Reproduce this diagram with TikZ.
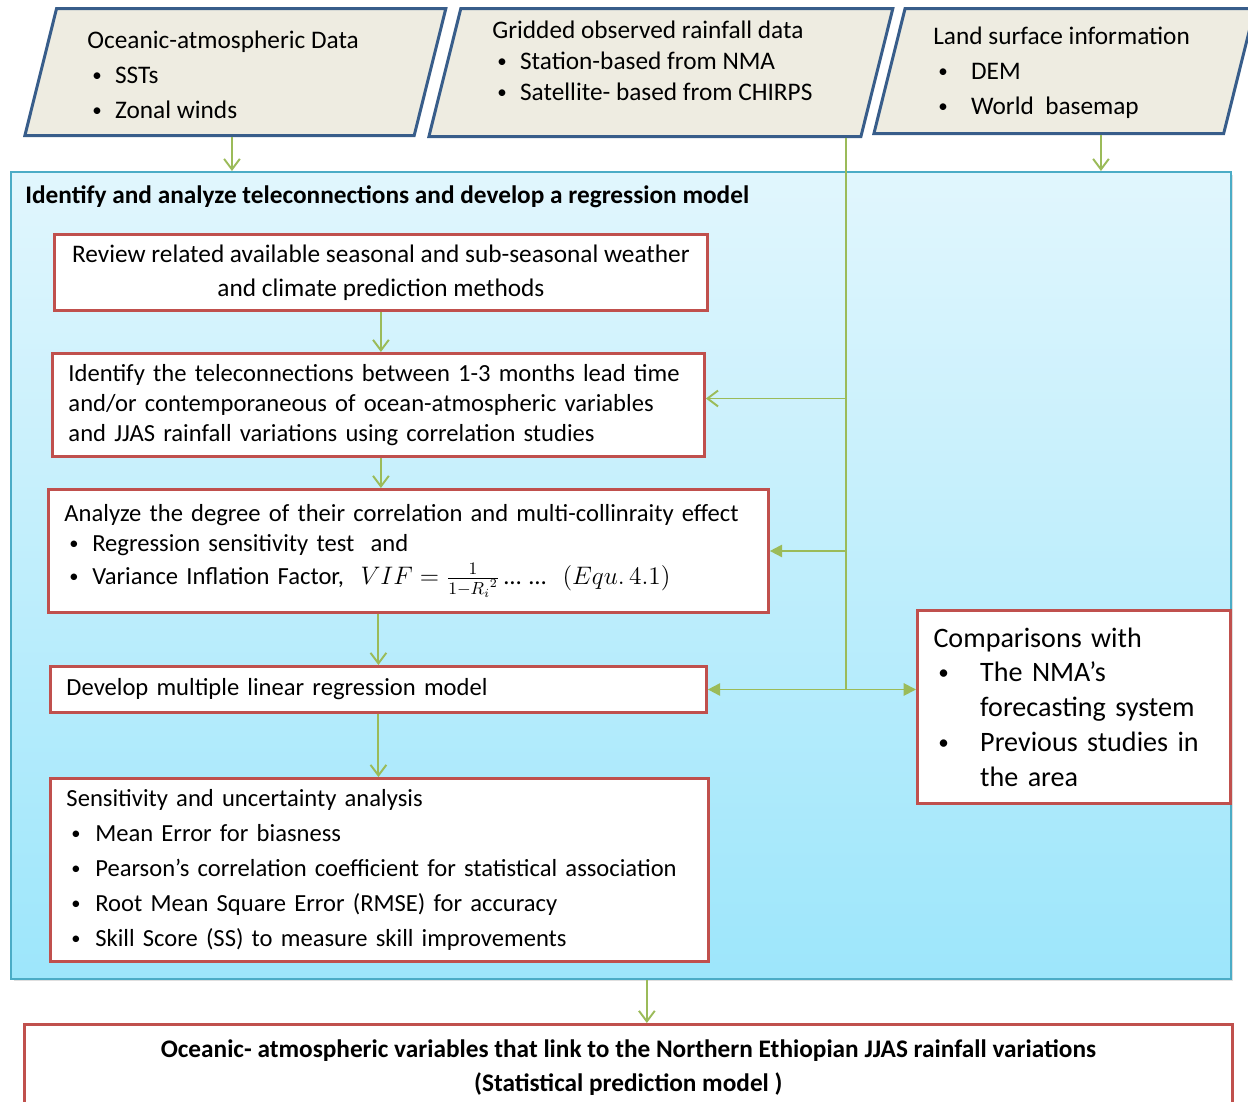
\documentclass[tikz,border=0pt]{standalone}
\usepackage{fontspec}
\setmainfont{Carlito}
\usetikzlibrary{arrows.meta,positioning,shapes.geometric,shadows}
\definecolor{redline}{RGB}{192,80,77}
\definecolor{blueline}{RGB}{56,93,138}
\definecolor{tanfill}{RGB}{238,236,225}
\definecolor{greenline}{RGB}{155,187,89}
\definecolor{frameline}{RGB}{75,172,198}
\definecolor{frametop}{RGB}{225,246,253}
\definecolor{framebot}{RGB}{157,230,251}
\newcommand{\bul}[1]{\hspace*{2.8pt}\makebox[#1][l]{\raisebox{0.08em}{\scalebox{0.75}{\textbullet}}}}

\begin{document}
\begin{tikzpicture}[x=0.02cm, y=-0.02cm,
    datain/.style={trapezium, trapezium left angle=76, trapezium right angle=104,
      trapezium stretches body, draw=blueline, line width=1.7pt, fill=tanfill, inner xsep=0pt},
    stepbox/.style={draw=redline, line width=1.7pt, fill=white, anchor=north west,
      inner xsep=0.32cm, align=left},
    flow/.style={draw=greenline, line width=1.1pt, -{Straight Barb[length=6pt,width=9pt]}},
    flowfill/.style={draw=greenline, line width=1.1pt, -{Triangle[length=7pt,width=7pt]}},
    txtbig/.style={font=\fontsize{14.4}{19.8}\selectfont},
    txt14/.style={font=\fontsize{14}{17}\selectfont}]
  \useasboundingbox (0,0) rectangle (1248,1102);

  % input data
  \node[datain, anchor=bottom left corner, minimum width=8.42cm, inner ysep=1.27cm] (ocean) at (23,137) {};
  \node[datain, anchor=bottom left corner, minimum width=9.28cm, inner ysep=1.28cm] (rain) at (427,138) {};
  \node[datain, anchor=bottom left corner, minimum width=7.62cm, inner ysep=1.25cm] (land) at (872,135) {};
  \node[txtbig, anchor=west, align=left, inner sep=0pt] (oceantxt) at (87,75)
    {Oceanic-atmospheric Data\\ \bul{13pt}SSTs\\ \bul{13pt}Zonal winds};
  \node[anchor=west, align=left, inner sep=0pt, font=\fontsize{14.4}{17.6}\selectfont] (raintxt) at (492,61)
    {Gridded observed rainfall data\\ \bul{13pt}Station-based from NMA\\ \bul{13pt}Satellite- based from CHIRPS};
  \node[txtbig, anchor=west, align=left, inner sep=0pt] (landtxt) at (933,73)
    {Land surface information\\ \bul{18.7pt}DEM\\ \bul{18.7pt}World\ \ basemap};

  % main frame
  \node[anchor=north west, minimum width=24.4cm, minimum height=16.14cm, draw=frameline, line width=1.1pt,
    top color=frametop, bottom color=framebot, inner sep=0pt,
    drop shadow={opacity=0.25, shadow xshift=1.5pt, shadow yshift=-1.5pt}] (frame) at (10,171) {};
  \node[anchor=west, inner sep=0pt, font=\fontsize{14.4}{16}\selectfont\bfseries] (title) at (25,197)
    {Identify and analyze teleconnections and develop a regression model};

  \node[stepbox, align=center, minimum width=13.06cm, minimum height=1.52cm, font=\fontsize{14.4}{19.3}\selectfont] (review) at (53,233)
    {Review related available seasonal and sub-seasonal weather\\ and climate prediction methods};
  \node[stepbox, txt14, text width=12.4cm, minimum height=2.06cm] (ident) at (51,352)
    {Identify the teleconnections between 1-3 months lead time\\ and/or contemporaneous of ocean-atmospheric variables\\ and JJAS rainfall variations using correlation studies};
  \node[stepbox, txt14, text width=13.76cm, minimum height=2.46cm] (analyze) at (47,488)
    {Analyze the degree of their correlation and multi-collinraity effect\\ \bul{13pt}Regression sensitivity test\ \ and\\[2pt]
     \bul{13pt}Variance Inflation Factor,\ \ $VIF=\frac{1}{1-{R_i}^2}$\,…\ …\ \ $(Equ.\,4.1)$};
  \node[stepbox, txt14, text width=12.48cm, minimum height=0.92cm] (devel) at (49,665)
    {Develop multiple linear regression model};
  \node[stepbox, text width=12.52cm, minimum height=3.66cm, font=\fontsize{14}{19.8}\selectfont] (sens) at (49,777)
    {Sensitivity and uncertainty analysis\\ \bul{13.6pt}Mean Error for biasness\\
     \bul{13.6pt}Pearson's correlation coefficient for statistical association\\
     \bul{13.6pt}Root Mean Square Error (RMSE) for accuracy\\
     \bul{13.6pt}Skill Score (SS) to measure skill improvements};
  \node[stepbox, text width=5.62cm, minimum height=3.86cm, font=\fontsize{16}{19.8}\selectfont] (comp) at (916,609)
    {Comparisons with\\ \bul{23.8pt}The NMA’s\\ \hspace*{26.6pt}forecasting system\\
     \bul{23.8pt}Previous studies in\\ \hspace*{26.6pt}the area};

  % output
  \node[stepbox, align=center, minimum width=24.16cm, minimum height=1.72cm, font=\fontsize{14.4}{19.3}\selectfont\bfseries] (result) at (23,1023)
    {Oceanic- atmospheric variables that link to the Northern Ethiopian JJAS rainfall variations\\ (Statistical prediction model )};

  % connectors
  \coordinate (ocean-out) at ([xshift=4.18cm]ocean.bottom left corner);
  \coordinate (rain-out) at ([xshift=8.38cm]rain.bottom left corner);
  \coordinate (land-out) at ([xshift=4.58cm]land.bottom left corner);
  \coordinate (ident-in) at ([yshift=0.13cm]ident.east);
  \coordinate (frame-out) at ([xshift=0.52cm]frame.south);
  \draw[flow] (ocean-out) -- (ocean-out |- frame.north);
  \draw[flow] (land-out) -- (land-out |- frame.north);
  \draw[greenline, line width=1.1pt] (rain-out) -- (rain-out |- devel.east);
  \draw[flow] (ident-in -| rain-out) -- (ident-in);
  \draw[flowfill] (analyze.east -| rain-out) -- (analyze.east);
  \draw[flowfill] (devel.east -| rain-out) -- (devel.east);
  \draw[flowfill] (devel.east -| rain-out) -- (devel.east -| comp.west);
  \draw[flow] (review.south) -- (review.south |- ident.north);
  \draw[flow] (review.south |- ident.south) -- (review.south |- analyze.north);
  \draw[flow] (devel.north |- analyze.south) -- (devel.north);
  \draw[flow] (devel.south) -- (devel.south |- sens.north);
  \draw[flow] (frame-out) -- (frame-out |- result.north);
\end{tikzpicture}
\end{document}
